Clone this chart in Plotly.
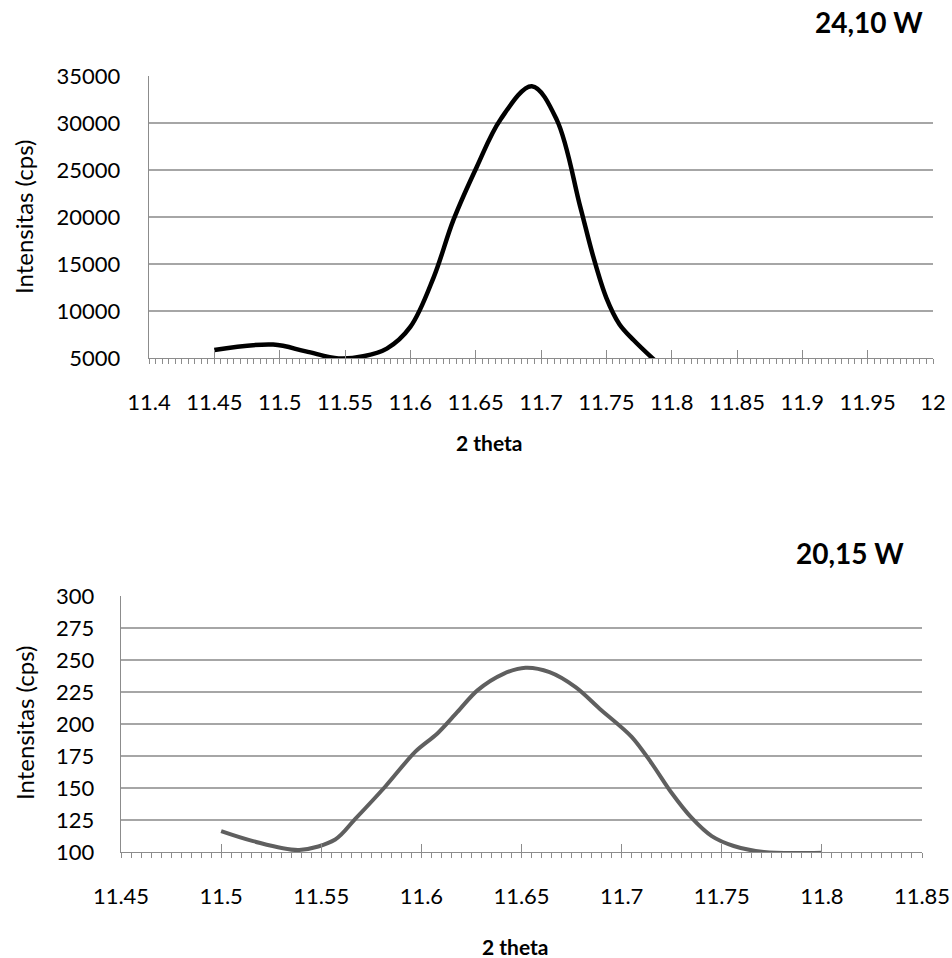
import plotly.graph_objects as go

# ---------------- data ----------------
top_title = "24,10 W"
bottom_title = "20,15 W"
x_title = "2 theta"
y_title = "Intensitas (cps)"

top_x = [11.450, 11.495, 11.520, 11.545, 11.564, 11.582, 11.600, 11.618, 11.633,
         11.651, 11.669, 11.693, 11.712, 11.730, 11.740, 11.750, 11.760, 11.771, 11.787]
top_y = [5850, 6430, 5700, 4950, 5180, 6000, 8310, 13640, 19690,
         25380, 30380, 33920, 30360, 21110, 15780, 11400, 8600, 6890, 4760]

bot_x = [11.500, 11.516, 11.539, 11.557, 11.567, 11.582, 11.597, 11.608, 11.618,
         11.628, 11.641, 11.652, 11.664, 11.677, 11.689, 11.705, 11.715, 11.725,
         11.735, 11.745, 11.756, 11.771, 11.800]
bot_y = [116.3, 108.5, 101.6, 109.8, 125.9, 151.2, 178.4, 192.6, 209.4,
         226.3, 239.2, 243.9, 240.5, 228.8, 212.0, 190.0, 169.3, 146.1,
         126.6, 112.4, 104.7, 100.0, 99.5]

top_xticks = [11.4, 11.45, 11.5, 11.55, 11.6, 11.65, 11.7, 11.75, 11.8, 11.85, 11.9, 11.95, 12.0]
top_xlabels = ["11.4", "11.45", "11.5", "11.55", "11.6", "11.65", "11.7", "11.75",
               "11.8", "11.85", "11.9", "11.95", "12"]
top_yticks = [5000, 10000, 15000, 20000, 25000, 30000, 35000]

bot_xticks = [11.45, 11.5, 11.55, 11.6, 11.65, 11.7, 11.75, 11.8, 11.85]
bot_xlabels = ["11.45", "11.5", "11.55", "11.6", "11.65", "11.7", "11.75", "11.8", "11.85"]
bot_yticks = [100, 125, 150, 175, 200, 225, 250, 275, 300]

# ---------------- layout helpers ----------------
W, H = 952, 958
FONT = "Lato"
AX = "#8c8c8c"
GRID = "#a6a6a6"

def px(x):
    return x / W

def py(y):
    return 1 - y / H

fig = go.Figure()
fig.add_trace(go.Scatter(x=top_x, y=top_y, mode="lines", xaxis="x", yaxis="y",
                         line=dict(color="#000000", width=4.5, shape="spline", smoothing=1.0),
                         showlegend=False, hoverinfo="skip"))
fig.add_trace(go.Scatter(x=bot_x, y=bot_y, mode="lines", xaxis="x2", yaxis="y2",
                         line=dict(color="#5f5f5f", width=4, shape="spline", smoothing=0.9),
                         showlegend=False, hoverinfo="skip"))
# empty traces to realise overlay tick axes
fig.add_trace(go.Scatter(x=[], y=[], xaxis="x3", yaxis="y", showlegend=False))
fig.add_trace(go.Scatter(x=[], y=[], xaxis="x4", yaxis="y2", showlegend=False))

tickfont = dict(family=FONT, size=22, color="#000000")

def xaxis_common(rng, tickvals, ticktext, domain, anchor):
    return dict(
        domain=domain, anchor=anchor, range=rng, tickmode="array", automargin=False,
        tickvals=tickvals, ticktext=ticktext, ticks="inside", ticklen=8,
        tickcolor=AX, tickwidth=1, showline=True, linecolor=AX, linewidth=1.3,
        showgrid=False, zeroline=False, tickfont=tickfont, ticklabelstandoff=24,
        minor=dict(dtick=0.005, tick0=rng[0], ticks="outside", ticklen=5,
                   tickcolor=AX, tickwidth=1, showgrid=False),
    )

def yaxis_common(rng, tickvals, domain, anchor, standoff):
    return dict(
        domain=domain, anchor=anchor, range=rng, tickmode="array", tickvals=tickvals,
        automargin=False,
        tickformat="d", ticks="", showline=True, linecolor=AX, linewidth=1.3,
        showgrid=True, gridcolor=GRID, gridwidth=1.3, zeroline=False,
        tickfont=tickfont, ticklabelstandoff=standoff,
    )

def overlay_axis(base, anchor, rng, tickvals):
    return dict(overlaying=base, anchor=anchor, range=rng, tickmode="array",
                automargin=False,
                tickvals=tickvals, ticks="outside", ticklen=5, tickcolor=AX,
                tickwidth=1, showticklabels=False, showline=False, showgrid=False,
                zeroline=False, side="bottom")

top_xdom = [px(149), px(933)]
top_ydom = [py(358), py(76)]
bot_xdom = [px(121), px(922)]
bot_ydom = [py(852), py(596)]

fig.update_layout(
    width=W, height=H,
    margin=dict(l=0, r=0, t=0, b=0, autoexpand=False),
    paper_bgcolor="white", plot_bgcolor="white",
    showlegend=False,
    xaxis=xaxis_common([11.4, 12.0], top_xticks, top_xlabels, top_xdom, "y"),
    yaxis=yaxis_common([5000, 35000], top_yticks, top_ydom, "x", 23),
    xaxis2=xaxis_common([11.45, 11.85], bot_xticks, bot_xlabels, bot_xdom, "y2"),
    yaxis2=yaxis_common([100, 300], bot_yticks, bot_ydom, "x2", 21),
    xaxis3=overlay_axis("x", "y", [11.4, 12.0], top_xticks),
    xaxis4=overlay_axis("x2", "y2", [11.45, 11.85], bot_xticks),
)

ann = []
def add_text(text, x, y, size, bold=False, angle=0):
    ann.append(dict(text=f"<b>{text}</b>" if bold else text, x=px(x), y=py(y),
                    xref="paper", yref="paper", showarrow=False, textangle=angle,
                    xanchor="center", yanchor="middle",
                    font=dict(family=FONT, size=size, color="#000000")))

add_text(top_title, 869, 22, 28, bold=True)
add_text(bottom_title, 850, 553, 28, bold=True)
add_text(x_title, 490, 442, 21, bold=True)
add_text(x_title, 515, 946, 21, bold=True)
add_text(y_title, 24, 217, 24, angle=-90)
add_text(y_title, 24, 723, 24, angle=-90)
fig.update_layout(annotations=ann)

fig.write_html("out.html",
               config={"displayModeBar": False, "staticPlot": True},
               post_script="document.body.style.margin='0';document.body.style.overflow='hidden';")
